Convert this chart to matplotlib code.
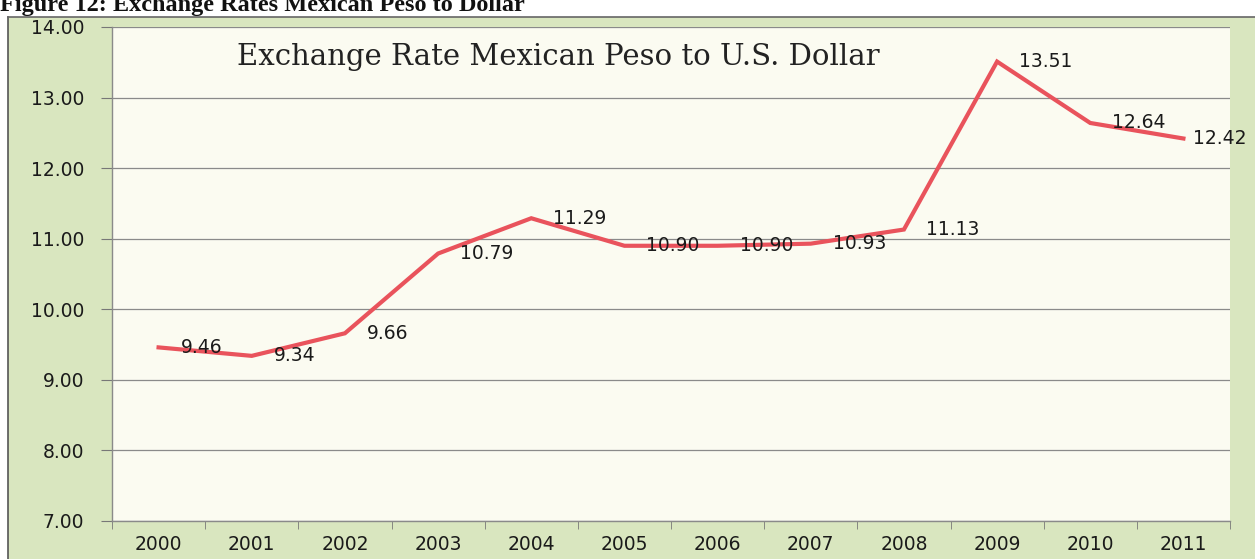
import matplotlib
matplotlib.use("Agg")
import matplotlib.pyplot as plt
from matplotlib.patches import Rectangle
from matplotlib.lines import Line2D

years = ["2000", "2001", "2002", "2003", "2004", "2005",
         "2006", "2007", "2008", "2009", "2010", "2011"]
rates = [9.46, 9.34, 9.66, 10.79, 11.29, 10.90,
         10.90, 10.93, 11.13, 13.51, 12.64, 12.42]
y_ticks = [7, 8, 9, 10, 11, 12, 13, 14]

W, H = 1255, 559
fig = plt.figure(figsize=(W / 100, H / 100), dpi=100)
fig.patch.set_facecolor("white")

# green chart panel with dark rule along left and top edges
panel_green = "#d9e6bf"
fig.add_artist(Rectangle((8 / W, 0), 1 - 8 / W, (H - 17) / H,
                         transform=fig.transFigure, facecolor=panel_green,
                         edgecolor="none", zorder=-2))
fig.add_artist(Line2D([8 / W, 8 / W], [0, (H - 17) / H], transform=fig.transFigure,
                      color="#555555", lw=1.2, zorder=-1))
fig.add_artist(Line2D([8 / W, 1], [(H - 17) / H, (H - 17) / H], transform=fig.transFigure,
                      color="#666666", lw=1.2, zorder=-1))

# caption line above the panel (runs off the top of the page)
fig.text(0.0, 1.0 - 11 / H, "Figure 12: Exchange Rates Mexican Peso to Dollar",
         ha="left", va="baseline", fontsize=17.5, fontweight="bold",
         family="Liberation Serif", color="#111111")

left, right = 112 / W, 1230 / W
bottom, top = (H - 521) / H, (H - 27) / H
ax = fig.add_axes([left, bottom, right - left, top - bottom])
ax.set_zorder(1)
ax.set_facecolor("#fbfbf1")

x = list(range(len(years)))
ax.plot(x, rates, color="#e9535c", lw=3.0, solid_joinstyle="miter", zorder=3)

for xi, v in zip(x, rates):
    dx = 10 if xi == len(years) - 1 else 22
    ax.annotate(f"{v:.2f}", (xi, v), xytext=(dx, 0), textcoords="offset pixels",
                ha="left", va="center", fontsize=13.5, color="#1a1a1a",
                family="DejaVu Sans", zorder=4, annotation_clip=False)

ax.set_xlim(-0.5, len(years) - 0.5)
ax.set_ylim(7, 14)
ax.set_yticks(y_ticks)
ax.set_yticklabels([f"{t:.2f}" for t in y_ticks], fontsize=13.5, color="#1a1a1a")
ax.set_xticks(x)
ax.set_xticklabels(years, fontsize=13.5, color="#1a1a1a")
ax.set_xticks([i - 0.5 for i in range(len(years) + 1)], minor=True)

ax.tick_params(axis="x", which="major", length=0, pad=10)
ax.tick_params(axis="x", which="minor", length=6, color="#777777", direction="out")
ax.tick_params(axis="y", which="major", length=8, color="#777777", pad=12)

ax.grid(axis="y", color="#8a8a8a", lw=0.9, zorder=1)
ax.set_axisbelow(True)
for side in ["top", "right"]:
    ax.spines[side].set_visible(False)
for side in ["left", "bottom"]:
    ax.spines[side].set_color("#8a8a8a")
    ax.spines[side].set_linewidth(1.0)

ax.text(0.399, 0.939, "Exchange Rate Mexican Peso to U.S. Dollar",
        transform=ax.transAxes, ha="center", va="center",
        fontsize=21, family="DejaVu Serif", color="#222222")

fig.savefig("out.png", dpi=100, facecolor=fig.get_facecolor())
